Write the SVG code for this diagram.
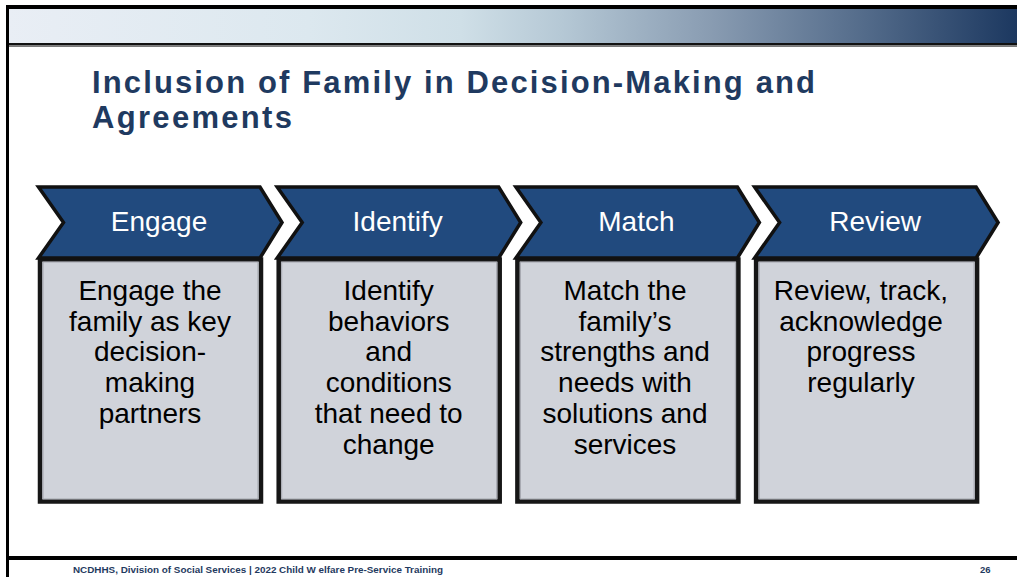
<svg xmlns="http://www.w3.org/2000/svg" width="1017" height="577" viewBox="0 0 1017 577">
  <defs>
    <linearGradient id="band" x1="0" y1="0" x2="1" y2="0">
      <stop offset="0" stop-color="#e9eef5"/>
      <stop offset="0.3" stop-color="#dce8ef"/>
      <stop offset="0.45" stop-color="#cfdfe7"/>
      <stop offset="0.55" stop-color="#b5c8d5"/>
      <stop offset="0.7" stop-color="#889bb1"/>
      <stop offset="0.85" stop-color="#536b8a"/>
      <stop offset="1" stop-color="#1c3860"/>
    </linearGradient>
    <style>
      .chev { fill: #214a7e; stroke: #111; stroke-width: 3.5; stroke-linejoin: miter; }
      .box { fill: #d0d3da; stroke: #161616; stroke-width: 4.5; }
      .inner { fill: none; stroke: #a3a6ad; stroke-width: 1; }
      .lbl { font-family: "Liberation Sans", Arial, sans-serif; font-size: 28px; fill: #ffffff; text-anchor: middle; }
      .body { font-family: "Liberation Sans", Arial, sans-serif; font-size: 28px; fill: #000000; text-anchor: middle; }
      .title { font-family: "Liberation Sans", Arial, sans-serif; font-size: 31px; font-weight: bold; fill: #1f3a60; }
      .foot { font-family: "Liberation Sans", Arial, sans-serif; font-size: 9.5px; font-weight: bold; fill: #1f3a60; }
    </style>
  </defs>

  <rect width="1017" height="577" fill="#ffffff"/>

  <!-- slide frame -->
  <g id="frame">
    <rect x="6" y="9" width="1011" height="34" fill="url(#band)"/>
    <rect x="6" y="5" width="1011" height="4" fill="#000"/>
    <rect x="6" y="43" width="1011" height="2.5" fill="#111"/>
    <rect x="6" y="45.5" width="1011" height="1.5" fill="#7a7a7a"/>
    <rect x="6" y="5" width="3" height="572" fill="#000"/>
    <rect x="6" y="556" width="1011" height="4" fill="#000"/>
  </g>

  <g id="title">
    <text class="title" x="92" y="93" textLength="723" lengthAdjust="spacing">Inclusion of Family in Decision-Making and</text>
    <text class="title" x="92" y="128" textLength="200" lengthAdjust="spacing">Agreements</text>
  </g>

  <g id="connectors"></g>

  <g id="step-engage">
    <rect class="box" x="40" y="259.5" width="221" height="242"/>
    <rect class="inner" x="43" y="262" width="215" height="237"/>
    <path class="chev" d="M38.5,187 H260 L282,222.5 L260,258 H38.5 L63.5,222.5 Z"/>
    <text class="lbl" x="159" y="231">Engage</text>
    <text class="body" x="150" y="300">Engage the</text>
    <text class="body" x="150" y="330.7">family as key</text>
    <text class="body" x="150" y="361.4">decision-</text>
    <text class="body" x="150" y="392.1">making</text>
    <text class="body" x="150" y="422.8">partners</text>
  </g>

  <g id="step-identify">
    <rect class="box" x="278.7" y="259.5" width="221" height="242"/>
    <rect class="inner" x="281.7" y="262" width="215" height="237"/>
    <path class="chev" d="M277.2,187 H498.7 L520.7,222.5 L498.7,258 H277.2 L302.2,222.5 Z"/>
    <text class="lbl" x="397.7" y="231">Identify</text>
    <text class="body" x="388.7" y="300">Identify</text>
    <text class="body" x="388.7" y="330.7">behaviors</text>
    <text class="body" x="388.7" y="361.4">and</text>
    <text class="body" x="388.7" y="392.1">conditions</text>
    <text class="body" x="388.7" y="422.8">that need to</text>
    <text class="body" x="388.7" y="453.5">change</text>
  </g>

  <g id="step-match">
    <rect class="box" x="517.4" y="259.5" width="221" height="242"/>
    <rect class="inner" x="520.4" y="262" width="215" height="237"/>
    <path class="chev" d="M515.9,187 H737.4 L759.4,222.5 L737.4,258 H515.9 L540.9,222.5 Z"/>
    <text class="lbl" x="636.4" y="231">Match</text>
    <text class="body" x="625" y="300">Match the</text>
    <text class="body" x="625" y="330.7">family’s</text>
    <text class="body" x="625" y="361.4">strengths and</text>
    <text class="body" x="625" y="392.1">needs with</text>
    <text class="body" x="625" y="422.8">solutions and</text>
    <text class="body" x="625" y="453.5">services</text>
  </g>

  <g id="step-review">
    <rect class="box" x="756.1" y="259.5" width="221" height="242"/>
    <rect class="inner" x="759.1" y="262" width="215" height="237"/>
    <path class="chev" d="M754.6,187 H976.1 L998.1,222.5 L976.1,258 H754.6 L779.6,222.5 Z"/>
    <text class="lbl" x="875.1" y="231">Review</text>
    <text class="body" x="861" y="300">Review, track,</text>
    <text class="body" x="861" y="330.7">acknowledge</text>
    <text class="body" x="861" y="361.4">progress</text>
    <text class="body" x="861" y="392.1">regularly</text>
  </g>

  <g id="footer">
    <text class="foot" x="73" y="573" textLength="370" lengthAdjust="spacingAndGlyphs">NCDHHS, Division of Social Services | 2022 Child W elfare Pre-Service Training</text>
    <text class="foot" x="980" y="573">26</text>
  </g>
</svg>
